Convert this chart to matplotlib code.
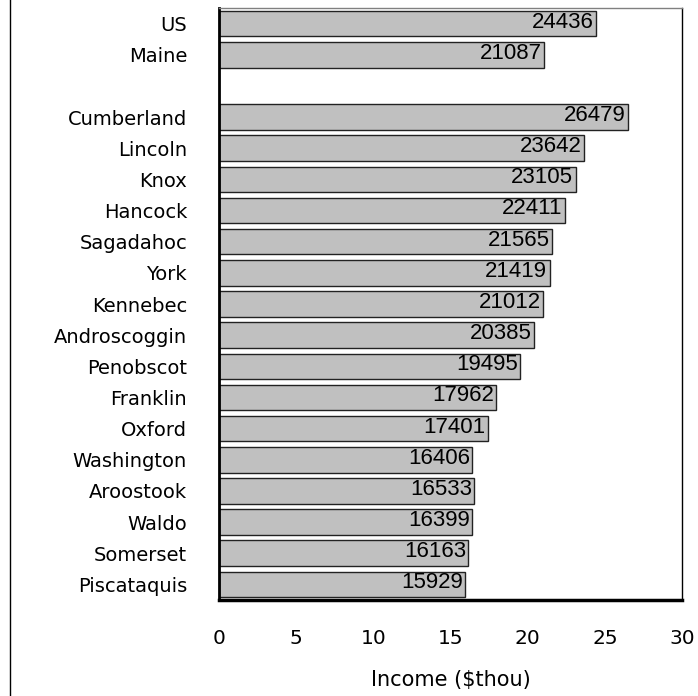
import matplotlib
matplotlib.use("Agg")
import matplotlib.pyplot as plt
from matplotlib.lines import Line2D

categories = ["US", "Maine", "", "Cumberland", "Lincoln", "Knox", "Hancock", "Sagadahoc",
              "York", "Kennebec", "Androscoggin", "Penobscot", "Franklin", "Oxford",
              "Washington", "Aroostook", "Waldo", "Somerset", "Piscataquis"]
values = [24436, 21087, None, 26479, 23642, 23105, 22411, 21565, 21419, 21012, 20385,
          19495, 17962, 17401, 16406, 16533, 16399, 16163, 15929]
xticks = [0, 5, 10, 15, 20, 25, 30]
xlabel = "Income ($thou)"

fig = plt.figure(figsize=(6.98, 6.96), dpi=100)
ax = fig.add_axes([219/698, 1 - 600/696, (682-219)/698, (600-8)/696])

pos = list(range(len(categories)))
for p, v in zip(pos, values):
    if v is None:
        continue
    ax.barh(p, v/1000, height=0.82, color="#C0C0C0", edgecolor="#222222", linewidth=1.0, zorder=2)
    ax.text(v/1000 - 0.15, p - 0.05, str(v), ha="right", va="center",
            fontsize=16, family="Liberation Sans", color="black", zorder=3)

ax.set_xlim(0, 30)
ax.set_ylim(len(categories) - 0.5, -0.5)
ax.set_yticks(pos)
ax.set_yticklabels(categories, fontsize=14, family="DejaVu Sans")
ax.set_xticks(xticks)
ax.set_xticklabels([str(t) for t in xticks], fontsize=14.5, family="DejaVu Sans")
ax.tick_params(axis="both", length=0)
ax.tick_params(axis="x", pad=21)
ax.tick_params(axis="y", pad=23)
ax.set_xlabel(xlabel, fontsize=15, family="DejaVu Sans", labelpad=16)

ax.spines["left"].set_linewidth(2.0)
ax.spines["left"].set_color("black")
ax.spines["bottom"].set_linewidth(2.5)
ax.spines["bottom"].set_color("black")
ax.spines["top"].set_linewidth(1.0)
ax.spines["top"].set_color("#808080")
ax.spines["right"].set_linewidth(1.0)
ax.spines["right"].set_color("black")

fig.add_artist(Line2D([10/698, 10/698], [0, 1], transform=fig.transFigure, color="black", linewidth=1.0))

fig.savefig("out.png", dpi=100)
